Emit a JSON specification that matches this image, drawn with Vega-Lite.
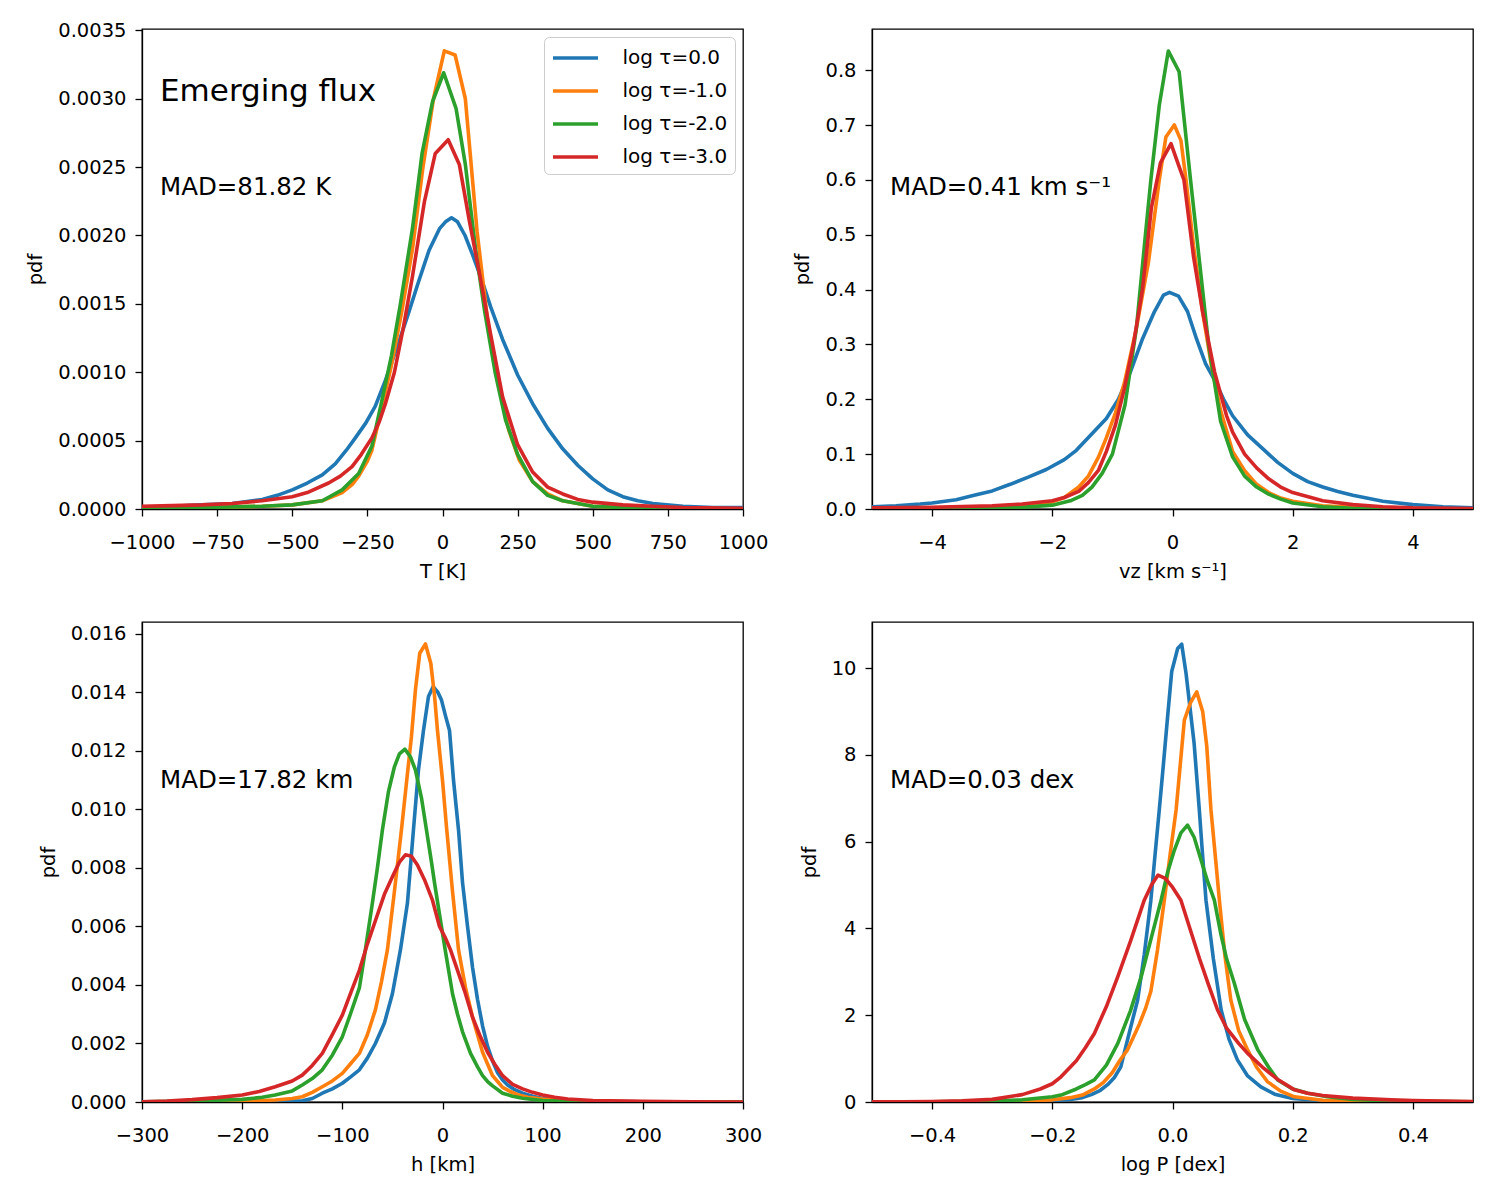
{
"$schema": "https://vega.github.io/schema/vega-lite/v6.json",
"background": "white",
"padding": {"left": 25, "top": 19, "right": 5, "bottom": 5},
"datasets": {
"T": [
{"s":"0.0","x":-1000,"y":0.00001},{"s":"0.0","x":-900,"y":0.00002},{"s":"0.0","x":-800,"y":0.00003},{"s":"0.0","x":-700,"y":0.00004},{"s":"0.0","x":-600,"y":0.00007},{"s":"0.0","x":-550,"y":0.0001},{"s":"0.0","x":-500,"y":0.00014},{"s":"0.0","x":-450,"y":0.00019},{"s":"0.0","x":-400,"y":0.00025},{"s":"0.0","x":-357,"y":0.00033},{"s":"0.0","x":-320,"y":0.00043},{"s":"0.0","x":-290,"y":0.00052},{"s":"0.0","x":-255,"y":0.00063},{"s":"0.0","x":-224,"y":0.00075},{"s":"0.0","x":-190,"y":0.00094},{"s":"0.0","x":-150,"y":0.00119},{"s":"0.0","x":-115,"y":0.00142},{"s":"0.0","x":-80,"y":0.00166},{"s":"0.0","x":-45,"y":0.00189},{"s":"0.0","x":-10,"y":0.00205},{"s":"0.0","x":10,"y":0.0021},{"s":"0.0","x":30,"y":0.00213},{"s":"0.0","x":50,"y":0.0021},{"s":"0.0","x":75,"y":0.002},{"s":"0.0","x":100,"y":0.00186},{"s":"0.0","x":130,"y":0.00168},{"s":"0.0","x":160,"y":0.00148},{"s":"0.0","x":200,"y":0.00124},{"s":"0.0","x":250,"y":0.00098},{"s":"0.0","x":300,"y":0.00077},{"s":"0.0","x":350,"y":0.00059},{"s":"0.0","x":400,"y":0.00044},{"s":"0.0","x":450,"y":0.00032},{"s":"0.0","x":500,"y":0.00022},{"s":"0.0","x":550,"y":0.00014},{"s":"0.0","x":600,"y":0.00009},{"s":"0.0","x":650,"y":0.00006},{"s":"0.0","x":700,"y":0.00004},{"s":"0.0","x":800,"y":0.00002},{"s":"0.0","x":900,"y":0.00001},{"s":"0.0","x":1000,"y":0.00001},
{"s":"-1.0","x":-1000,"y":0.000005},{"s":"-1.0","x":-800,"y":0.00001},{"s":"-1.0","x":-600,"y":0.00002},{"s":"-1.0","x":-500,"y":0.00003},{"s":"-1.0","x":-400,"y":0.00006},{"s":"-1.0","x":-334,"y":0.00012},{"s":"-1.0","x":-300,"y":0.00018},{"s":"-1.0","x":-279,"y":0.00024},{"s":"-1.0","x":-250,"y":0.00035},{"s":"-1.0","x":-235,"y":0.00043},{"s":"-1.0","x":-201,"y":0.00075},{"s":"-1.0","x":-170,"y":0.00105},{"s":"-1.0","x":-135,"y":0.00145},{"s":"-1.0","x":-100,"y":0.0019},{"s":"-1.0","x":-65,"y":0.0025},{"s":"-1.0","x":-30,"y":0.003},{"s":"-1.0","x":6,"y":0.00335},{"s":"-1.0","x":42,"y":0.00332},{"s":"-1.0","x":76,"y":0.003},{"s":"-1.0","x":115,"y":0.00203},{"s":"-1.0","x":150,"y":0.00138},{"s":"-1.0","x":185,"y":0.00092},{"s":"-1.0","x":220,"y":0.00058},{"s":"-1.0","x":255,"y":0.00036},{"s":"-1.0","x":300,"y":0.0002},{"s":"-1.0","x":350,"y":0.00011},{"s":"-1.0","x":400,"y":0.00006},{"s":"-1.0","x":450,"y":0.00004},{"s":"-1.0","x":500,"y":0.00002},{"s":"-1.0","x":600,"y":0.00001},{"s":"-1.0","x":800,"y":0.000005},{"s":"-1.0","x":1000,"y":0},
{"s":"-2.0","x":-1000,"y":0.000005},{"s":"-2.0","x":-800,"y":0.00001},{"s":"-2.0","x":-600,"y":0.00002},{"s":"-2.0","x":-500,"y":0.00003},{"s":"-2.0","x":-400,"y":0.00006},{"s":"-2.0","x":-334,"y":0.00014},{"s":"-2.0","x":-279,"y":0.00026},{"s":"-2.0","x":-235,"y":0.00046},{"s":"-2.0","x":-201,"y":0.0008},{"s":"-2.0","x":-170,"y":0.00112},{"s":"-2.0","x":-140,"y":0.0015},{"s":"-2.0","x":-100,"y":0.00205},{"s":"-2.0","x":-68,"y":0.0026},{"s":"-2.0","x":-33,"y":0.00298},{"s":"-2.0","x":4,"y":0.00319},{"s":"-2.0","x":45,"y":0.00293},{"s":"-2.0","x":76,"y":0.00252},{"s":"-2.0","x":110,"y":0.0019},{"s":"-2.0","x":140,"y":0.00145},{"s":"-2.0","x":175,"y":0.001},{"s":"-2.0","x":210,"y":0.00065},{"s":"-2.0","x":250,"y":0.0004},{"s":"-2.0","x":300,"y":0.0002},{"s":"-2.0","x":350,"y":0.0001},{"s":"-2.0","x":400,"y":0.00006},{"s":"-2.0","x":450,"y":0.00004},{"s":"-2.0","x":500,"y":0.00002},{"s":"-2.0","x":600,"y":0.00001},{"s":"-2.0","x":800,"y":0.000005},{"s":"-2.0","x":1000,"y":0},
{"s":"-3.0","x":-1000,"y":0.00002},{"s":"-3.0","x":-900,"y":0.000025},{"s":"-3.0","x":-800,"y":0.00003},{"s":"-3.0","x":-700,"y":0.00004},{"s":"-3.0","x":-600,"y":0.00006},{"s":"-3.0","x":-500,"y":0.00009},{"s":"-3.0","x":-450,"y":0.00012},{"s":"-3.0","x":-379,"y":0.00019},{"s":"-3.0","x":-340,"y":0.00024},{"s":"-3.0","x":-301,"y":0.00031},{"s":"-3.0","x":-270,"y":0.0004},{"s":"-3.0","x":-235,"y":0.00052},{"s":"-3.0","x":-210,"y":0.00064},{"s":"-3.0","x":-190,"y":0.00077},{"s":"-3.0","x":-160,"y":0.001},{"s":"-3.0","x":-130,"y":0.00133},{"s":"-3.0","x":-100,"y":0.0017},{"s":"-3.0","x":-60,"y":0.00225},{"s":"-3.0","x":-24,"y":0.0026},{"s":"-3.0","x":19,"y":0.0027},{"s":"-3.0","x":56,"y":0.00252},{"s":"-3.0","x":90,"y":0.0021},{"s":"-3.0","x":125,"y":0.0017},{"s":"-3.0","x":160,"y":0.00128},{"s":"-3.0","x":200,"y":0.00082},{"s":"-3.0","x":250,"y":0.00047},{"s":"-3.0","x":300,"y":0.00027},{"s":"-3.0","x":350,"y":0.00016},{"s":"-3.0","x":400,"y":0.00011},{"s":"-3.0","x":450,"y":0.00007},{"s":"-3.0","x":500,"y":0.00005},{"s":"-3.0","x":600,"y":0.00003},{"s":"-3.0","x":700,"y":0.00002},{"s":"-3.0","x":800,"y":0.00001},{"s":"-3.0","x":1000,"y":0.000005}
],
"V": [
{"s":"0.0","x":-5,"y":0.004},{"s":"0.0","x":-4.6,"y":0.006},{"s":"0.0","x":-4.2,"y":0.009},{"s":"0.0","x":-4,"y":0.011},{"s":"0.0","x":-3.6,"y":0.017},{"s":"0.0","x":-3.3,"y":0.025},{"s":"0.0","x":-3,"y":0.033},{"s":"0.0","x":-2.7,"y":0.045},{"s":"0.0","x":-2.4,"y":0.058},{"s":"0.0","x":-2.1,"y":0.072},{"s":"0.0","x":-1.8,"y":0.09},{"s":"0.0","x":-1.6,"y":0.107},{"s":"0.0","x":-1.34,"y":0.137},{"s":"0.0","x":-1.1,"y":0.165},{"s":"0.0","x":-0.9,"y":0.2},{"s":"0.0","x":-0.7,"y":0.25},{"s":"0.0","x":-0.5,"y":0.31},{"s":"0.0","x":-0.3,"y":0.36},{"s":"0.0","x":-0.15,"y":0.39},{"s":"0.0","x":-0.05,"y":0.395},{"s":"0.0","x":0.1,"y":0.388},{"s":"0.0","x":0.25,"y":0.36},{"s":"0.0","x":0.4,"y":0.31},{"s":"0.0","x":0.55,"y":0.265},{"s":"0.0","x":0.7,"y":0.235},{"s":"0.0","x":0.85,"y":0.2},{"s":"0.0","x":1,"y":0.17},{"s":"0.0","x":1.25,"y":0.135},{"s":"0.0","x":1.5,"y":0.11},{"s":"0.0","x":1.75,"y":0.085},{"s":"0.0","x":2,"y":0.065},{"s":"0.0","x":2.25,"y":0.05},{"s":"0.0","x":2.5,"y":0.04},{"s":"0.0","x":2.75,"y":0.032},{"s":"0.0","x":3,"y":0.025},{"s":"0.0","x":3.5,"y":0.014},{"s":"0.0","x":4,"y":0.008},{"s":"0.0","x":4.5,"y":0.004},{"s":"0.0","x":5,"y":0.002},
{"s":"-1.0","x":-5,"y":0.001},{"s":"-1.0","x":-4,"y":0.002},{"s":"-1.0","x":-3,"y":0.004},{"s":"-1.0","x":-2.5,"y":0.007},{"s":"-1.0","x":-2,"y":0.013},{"s":"-1.0","x":-1.8,"y":0.021},{"s":"-1.0","x":-1.56,"y":0.04},{"s":"-1.0","x":-1.4,"y":0.06},{"s":"-1.0","x":-1.23,"y":0.095},{"s":"-1.0","x":-1.1,"y":0.13},{"s":"-1.0","x":-0.95,"y":0.175},{"s":"-1.0","x":-0.8,"y":0.23},{"s":"-1.0","x":-0.6,"y":0.33},{"s":"-1.0","x":-0.4,"y":0.45},{"s":"-1.0","x":-0.22,"y":0.6},{"s":"-1.0","x":-0.11,"y":0.678},{"s":"-1.0","x":0.03,"y":0.7},{"s":"-1.0","x":0.14,"y":0.672},{"s":"-1.0","x":0.225,"y":0.6},{"s":"-1.0","x":0.35,"y":0.48},{"s":"-1.0","x":0.5,"y":0.36},{"s":"-1.0","x":0.65,"y":0.26},{"s":"-1.0","x":0.8,"y":0.18},{"s":"-1.0","x":1,"y":0.105},{"s":"-1.0","x":1.2,"y":0.07},{"s":"-1.0","x":1.4,"y":0.045},{"s":"-1.0","x":1.6,"y":0.03},{"s":"-1.0","x":1.8,"y":0.02},{"s":"-1.0","x":2,"y":0.014},{"s":"-1.0","x":2.5,"y":0.006},{"s":"-1.0","x":3,"y":0.003},{"s":"-1.0","x":4,"y":0.001},{"s":"-1.0","x":5,"y":0},
{"s":"-2.0","x":-5,"y":0},{"s":"-2.0","x":-4,"y":0.0005},{"s":"-2.0","x":-3,"y":0.001},{"s":"-2.0","x":-2.5,"y":0.003},{"s":"-2.0","x":-2,"y":0.007},{"s":"-2.0","x":-1.7,"y":0.015},{"s":"-2.0","x":-1.5,"y":0.025},{"s":"-2.0","x":-1.34,"y":0.04},{"s":"-2.0","x":-1.17,"y":0.065},{"s":"-2.0","x":-1,"y":0.1},{"s":"-2.0","x":-0.79,"y":0.19},{"s":"-2.0","x":-0.6,"y":0.33},{"s":"-2.0","x":-0.45,"y":0.5},{"s":"-2.0","x":-0.36,"y":0.6},{"s":"-2.0","x":-0.22,"y":0.736},{"s":"-2.0","x":-0.07,"y":0.835},{"s":"-2.0","x":0.11,"y":0.797},{"s":"-2.0","x":0.3,"y":0.6},{"s":"-2.0","x":0.45,"y":0.45},{"s":"-2.0","x":0.6,"y":0.3},{"s":"-2.0","x":0.8,"y":0.16},{"s":"-2.0","x":1,"y":0.095},{"s":"-2.0","x":1.2,"y":0.06},{"s":"-2.0","x":1.4,"y":0.04},{"s":"-2.0","x":1.6,"y":0.027},{"s":"-2.0","x":1.8,"y":0.018},{"s":"-2.0","x":2,"y":0.011},{"s":"-2.0","x":2.5,"y":0.004},{"s":"-2.0","x":3,"y":0.0015},{"s":"-2.0","x":4,"y":0.0005},{"s":"-2.0","x":5,"y":0},
{"s":"-3.0","x":-5,"y":0.002},{"s":"-3.0","x":-4,"y":0.003},{"s":"-3.0","x":-3,"y":0.006},{"s":"-3.0","x":-2.5,"y":0.009},{"s":"-3.0","x":-2,"y":0.015},{"s":"-3.0","x":-1.8,"y":0.021},{"s":"-3.0","x":-1.56,"y":0.032},{"s":"-3.0","x":-1.4,"y":0.048},{"s":"-3.0","x":-1.23,"y":0.071},{"s":"-3.0","x":-1.1,"y":0.105},{"s":"-3.0","x":-0.95,"y":0.153},{"s":"-3.0","x":-0.8,"y":0.22},{"s":"-3.0","x":-0.65,"y":0.3},{"s":"-3.0","x":-0.5,"y":0.4},{"s":"-3.0","x":-0.35,"y":0.55},{"s":"-3.0","x":-0.2,"y":0.631},{"s":"-3.0","x":-0.025,"y":0.666},{"s":"-3.0","x":0.11,"y":0.624},{"s":"-3.0","x":0.19,"y":0.6},{"s":"-3.0","x":0.35,"y":0.46},{"s":"-3.0","x":0.5,"y":0.36},{"s":"-3.0","x":0.7,"y":0.25},{"s":"-3.0","x":0.9,"y":0.17},{"s":"-3.0","x":1,"y":0.14},{"s":"-3.0","x":1.2,"y":0.1},{"s":"-3.0","x":1.4,"y":0.075},{"s":"-3.0","x":1.6,"y":0.055},{"s":"-3.0","x":1.8,"y":0.04},{"s":"-3.0","x":2,"y":0.03},{"s":"-3.0","x":2.5,"y":0.015},{"s":"-3.0","x":3,"y":0.008},{"s":"-3.0","x":3.5,"y":0.004},{"s":"-3.0","x":4,"y":0.002},{"s":"-3.0","x":5,"y":0.001}
],
"H": [
{"s":"0.0","x":-300,"y":0},{"s":"0.0","x":-250,"y":0.000003},{"s":"0.0","x":-200,"y":0.00001},{"s":"0.0","x":-160,"y":0.00002},{"s":"0.0","x":-140,"y":0.00004},{"s":"0.0","x":-130,"y":0.00012},{"s":"0.0","x":-120,"y":0.0003},{"s":"0.0","x":-110,"y":0.00045},{"s":"0.0","x":-100,"y":0.00064},{"s":"0.0","x":-92,"y":0.00085},{"s":"0.0","x":-83,"y":0.0011},{"s":"0.0","x":-75,"y":0.0015},{"s":"0.0","x":-67,"y":0.002},{"s":"0.0","x":-58,"y":0.0027},{"s":"0.0","x":-50,"y":0.0037},{"s":"0.0","x":-42,"y":0.0052},{"s":"0.0","x":-35,"y":0.0068},{"s":"0.0","x":-29,"y":0.0093},{"s":"0.0","x":-24,"y":0.01135},{"s":"0.0","x":-19,"y":0.0127},{"s":"0.0","x":-14,"y":0.01386},{"s":"0.0","x":-9.3,"y":0.0142},{"s":"0.0","x":-4.5,"y":0.014},{"s":"0.0","x":-1,"y":0.01374},{"s":"0.0","x":3,"y":0.0132},{"s":"0.0","x":7,"y":0.0127},{"s":"0.0","x":11,"y":0.011},{"s":"0.0","x":16,"y":0.0093},{"s":"0.0","x":20,"y":0.0075},{"s":"0.0","x":25,"y":0.006},{"s":"0.0","x":30,"y":0.0046},{"s":"0.0","x":35,"y":0.0035},{"s":"0.0","x":40,"y":0.0026},{"s":"0.0","x":45,"y":0.0019},{"s":"0.0","x":50,"y":0.0014},{"s":"0.0","x":55,"y":0.001},{"s":"0.0","x":60,"y":0.00075},{"s":"0.0","x":65,"y":0.00058},{"s":"0.0","x":72,"y":0.00042},{"s":"0.0","x":80,"y":0.0003},{"s":"0.0","x":90,"y":0.0002},{"s":"0.0","x":100,"y":0.00012},{"s":"0.0","x":120,"y":0.00006},{"s":"0.0","x":150,"y":0.00002},{"s":"0.0","x":200,"y":0.000005},{"s":"0.0","x":300,"y":0},
{"s":"-1.0","x":-300,"y":0},{"s":"-1.0","x":-250,"y":0.000005},{"s":"-1.0","x":-200,"y":0.00002},{"s":"-1.0","x":-167,"y":0.00007},{"s":"-1.0","x":-150,"y":0.00012},{"s":"-1.0","x":-140,"y":0.00018},{"s":"-1.0","x":-130,"y":0.00033},{"s":"-1.0","x":-120,"y":0.00052},{"s":"-1.0","x":-110,"y":0.00072},{"s":"-1.0","x":-100,"y":0.00098},{"s":"-1.0","x":-92,"y":0.0013},{"s":"-1.0","x":-83,"y":0.00166},{"s":"-1.0","x":-75,"y":0.0023},{"s":"-1.0","x":-67,"y":0.00315},{"s":"-1.0","x":-61,"y":0.0041},{"s":"-1.0","x":-55,"y":0.0052},{"s":"-1.0","x":-48,"y":0.0072},{"s":"-1.0","x":-41,"y":0.0093},{"s":"-1.0","x":-36,"y":0.0109},{"s":"-1.0","x":-31,"y":0.01249},{"s":"-1.0","x":-27,"y":0.0141},{"s":"-1.0","x":-22.7,"y":0.01534},{"s":"-1.0","x":-17,"y":0.01566},{"s":"-1.0","x":-11.7,"y":0.015},{"s":"-1.0","x":-8,"y":0.0139},{"s":"-1.0","x":-5,"y":0.0127},{"s":"-1.0","x":0,"y":0.011},{"s":"-1.0","x":4,"y":0.0094},{"s":"-1.0","x":10,"y":0.0072},{"s":"-1.0","x":16,"y":0.0052},{"s":"-1.0","x":23,"y":0.0039},{"s":"-1.0","x":30,"y":0.0029},{"s":"-1.0","x":35,"y":0.0023},{"s":"-1.0","x":40,"y":0.0017},{"s":"-1.0","x":45,"y":0.0013},{"s":"-1.0","x":50,"y":0.0009},{"s":"-1.0","x":55,"y":0.0007},{"s":"-1.0","x":60,"y":0.0005},{"s":"-1.0","x":68,"y":0.00035},{"s":"-1.0","x":75,"y":0.00025},{"s":"-1.0","x":85,"y":0.00016},{"s":"-1.0","x":100,"y":0.0001},{"s":"-1.0","x":125,"y":0.00004},{"s":"-1.0","x":150,"y":0.00002},{"s":"-1.0","x":200,"y":0.000005},{"s":"-1.0","x":300,"y":0},
{"s":"-2.0","x":-300,"y":0.00001},{"s":"-2.0","x":-250,"y":0.00003},{"s":"-2.0","x":-200,"y":0.00009},{"s":"-2.0","x":-180,"y":0.00016},{"s":"-2.0","x":-167,"y":0.00024},{"s":"-2.0","x":-150,"y":0.00038},{"s":"-2.0","x":-140,"y":0.00058},{"s":"-2.0","x":-130,"y":0.0008},{"s":"-2.0","x":-120,"y":0.0011},{"s":"-2.0","x":-110,"y":0.0016},{"s":"-2.0","x":-100,"y":0.00223},{"s":"-2.0","x":-92,"y":0.003},{"s":"-2.0","x":-83,"y":0.0039},{"s":"-2.0","x":-77,"y":0.0052},{"s":"-2.0","x":-70,"y":0.0068},{"s":"-2.0","x":-65,"y":0.008},{"s":"-2.0","x":-60,"y":0.0093},{"s":"-2.0","x":-54,"y":0.0106},{"s":"-2.0","x":-48,"y":0.01146},{"s":"-2.0","x":-43,"y":0.0119},{"s":"-2.0","x":-37.5,"y":0.01206},{"s":"-2.0","x":-32,"y":0.0118},{"s":"-2.0","x":-27,"y":0.01135},{"s":"-2.0","x":-21,"y":0.0104},{"s":"-2.0","x":-16,"y":0.0093},{"s":"-2.0","x":-11,"y":0.0082},{"s":"-2.0","x":-8,"y":0.0075},{"s":"-2.0","x":-2,"y":0.0062},{"s":"-2.0","x":2.7,"y":0.0052},{"s":"-2.0","x":10,"y":0.0037},{"s":"-2.0","x":15,"y":0.003},{"s":"-2.0","x":20,"y":0.0024},{"s":"-2.0","x":28,"y":0.00166},{"s":"-2.0","x":35,"y":0.0012},{"s":"-2.0","x":40,"y":0.0009},{"s":"-2.0","x":45,"y":0.0007},{"s":"-2.0","x":50,"y":0.00055},{"s":"-2.0","x":60,"y":0.0003},{"s":"-2.0","x":70,"y":0.0002},{"s":"-2.0","x":80,"y":0.00013},{"s":"-2.0","x":100,"y":0.00005},{"s":"-2.0","x":125,"y":0.00002},{"s":"-2.0","x":150,"y":0.00001},{"s":"-2.0","x":200,"y":0.000003},{"s":"-2.0","x":300,"y":0},
{"s":"-3.0","x":-300,"y":0.00001},{"s":"-3.0","x":-275,"y":0.00003},{"s":"-3.0","x":-250,"y":0.00008},{"s":"-3.0","x":-225,"y":0.00015},{"s":"-3.0","x":-200,"y":0.00024},{"s":"-3.0","x":-183,"y":0.00036},{"s":"-3.0","x":-167,"y":0.00052},{"s":"-3.0","x":-150,"y":0.00072},{"s":"-3.0","x":-140,"y":0.00092},{"s":"-3.0","x":-130,"y":0.00125},{"s":"-3.0","x":-120,"y":0.00166},{"s":"-3.0","x":-110,"y":0.0023},{"s":"-3.0","x":-100,"y":0.00297},{"s":"-3.0","x":-92,"y":0.0037},{"s":"-3.0","x":-83,"y":0.0045},{"s":"-3.0","x":-75,"y":0.0054},{"s":"-3.0","x":-66,"y":0.0063},{"s":"-3.0","x":-58,"y":0.0071},{"s":"-3.0","x":-50,"y":0.0077},{"s":"-3.0","x":-43,"y":0.0082},{"s":"-3.0","x":-37,"y":0.00845},{"s":"-3.0","x":-31,"y":0.0084},{"s":"-3.0","x":-25,"y":0.0081},{"s":"-3.0","x":-18,"y":0.0076},{"s":"-3.0","x":-10,"y":0.0069},{"s":"-3.0","x":-3,"y":0.006},{"s":"-3.0","x":3,"y":0.0056},{"s":"-3.0","x":8,"y":0.0052},{"s":"-3.0","x":15,"y":0.0045},{"s":"-3.0","x":22,"y":0.0038},{"s":"-3.0","x":30,"y":0.0029},{"s":"-3.0","x":37,"y":0.0023},{"s":"-3.0","x":45,"y":0.0017},{"s":"-3.0","x":52,"y":0.0013},{"s":"-3.0","x":60,"y":0.0009},{"s":"-3.0","x":70,"y":0.0006},{"s":"-3.0","x":80,"y":0.00045},{"s":"-3.0","x":90,"y":0.00033},{"s":"-3.0","x":100,"y":0.00024},{"s":"-3.0","x":112,"y":0.00016},{"s":"-3.0","x":125,"y":0.0001},{"s":"-3.0","x":150,"y":0.00005},{"s":"-3.0","x":200,"y":0.00002},{"s":"-3.0","x":250,"y":0.00001},{"s":"-3.0","x":300,"y":0}
],
"P": [
{"s":"0.0","x":-0.5,"y":0},{"s":"0.0","x":-0.4,"y":0.001},{"s":"0.0","x":-0.3,"y":0.005},{"s":"0.0","x":-0.25,"y":0.012},{"s":"0.0","x":-0.2,"y":0.03},{"s":"0.0","x":-0.17,"y":0.06},{"s":"0.0","x":-0.15,"y":0.1},{"s":"0.0","x":-0.135,"y":0.17},{"s":"0.0","x":-0.12,"y":0.27},{"s":"0.0","x":-0.108,"y":0.4},{"s":"0.0","x":-0.097,"y":0.56},{"s":"0.0","x":-0.086,"y":0.81},{"s":"0.0","x":-0.08,"y":1.15},{"s":"0.0","x":-0.07,"y":1.7},{"s":"0.0","x":-0.058,"y":2.35},{"s":"0.0","x":-0.047,"y":3.4},{"s":"0.0","x":-0.036,"y":4.65},{"s":"0.0","x":-0.029,"y":5.7},{"s":"0.0","x":-0.022,"y":6.73},{"s":"0.0","x":-0.015,"y":7.8},{"s":"0.0","x":-0.008,"y":8.9},{"s":"0.0","x":-0.0013,"y":9.92},{"s":"0.0","x":0.0086,"y":10.45},{"s":"0.0","x":0.0153,"y":10.55},{"s":"0.0","x":0.0225,"y":9.88},{"s":"0.0","x":0.029,"y":9.1},{"s":"0.0","x":0.036,"y":8.26},{"s":"0.0","x":0.0446,"y":6.73},{"s":"0.0","x":0.05,"y":5.7},{"s":"0.0","x":0.0557,"y":4.65},{"s":"0.0","x":0.068,"y":3.3},{"s":"0.0","x":0.081,"y":2.12},{"s":"0.0","x":0.094,"y":1.45},{"s":"0.0","x":0.108,"y":0.97},{"s":"0.0","x":0.125,"y":0.6},{"s":"0.0","x":0.147,"y":0.35},{"s":"0.0","x":0.17,"y":0.18},{"s":"0.0","x":0.2,"y":0.08},{"s":"0.0","x":0.25,"y":0.03},{"s":"0.0","x":0.3,"y":0.012},{"s":"0.0","x":0.4,"y":0.003},{"s":"0.0","x":0.5,"y":0},
{"s":"-1.0","x":-0.5,"y":0},{"s":"-1.0","x":-0.4,"y":0.002},{"s":"-1.0","x":-0.3,"y":0.008},{"s":"-1.0","x":-0.25,"y":0.02},{"s":"-1.0","x":-0.2,"y":0.05},{"s":"-1.0","x":-0.17,"y":0.1},{"s":"-1.0","x":-0.15,"y":0.16},{"s":"-1.0","x":-0.13,"y":0.3},{"s":"-1.0","x":-0.115,"y":0.45},{"s":"-1.0","x":-0.1,"y":0.68},{"s":"-1.0","x":-0.088,"y":0.95},{"s":"-1.0","x":-0.075,"y":1.2},{"s":"-1.0","x":-0.065,"y":1.5},{"s":"-1.0","x":-0.055,"y":1.8},{"s":"-1.0","x":-0.045,"y":2.15},{"s":"-1.0","x":-0.036,"y":2.55},{"s":"-1.0","x":-0.025,"y":3.5},{"s":"-1.0","x":-0.0136,"y":4.65},{"s":"-1.0","x":-0.004,"y":5.7},{"s":"-1.0","x":0.006,"y":6.73},{"s":"-1.0","x":0.0197,"y":8.8},{"s":"-1.0","x":0.03,"y":9.2},{"s":"-1.0","x":0.0403,"y":9.45},{"s":"-1.0","x":0.0502,"y":9.0},{"s":"-1.0","x":0.057,"y":8.2},{"s":"-1.0","x":0.064,"y":6.73},{"s":"-1.0","x":0.071,"y":5.7},{"s":"-1.0","x":0.078,"y":4.65},{"s":"-1.0","x":0.087,"y":3.4},{"s":"-1.0","x":0.097,"y":2.35},{"s":"-1.0","x":0.11,"y":1.65},{"s":"-1.0","x":0.125,"y":1.2},{"s":"-1.0","x":0.14,"y":0.8},{"s":"-1.0","x":0.158,"y":0.47},{"s":"-1.0","x":0.18,"y":0.25},{"s":"-1.0","x":0.203,"y":0.12},{"s":"-1.0","x":0.25,"y":0.04},{"s":"-1.0","x":0.3,"y":0.015},{"s":"-1.0","x":0.4,"y":0.004},{"s":"-1.0","x":0.5,"y":0},
{"s":"-2.0","x":-0.5,"y":0},{"s":"-2.0","x":-0.4,"y":0.005},{"s":"-2.0","x":-0.3,"y":0.02},{"s":"-2.0","x":-0.25,"y":0.05},{"s":"-2.0","x":-0.2,"y":0.12},{"s":"-2.0","x":-0.1855,"y":0.16},{"s":"-2.0","x":-0.16,"y":0.3},{"s":"-2.0","x":-0.145,"y":0.4},{"s":"-2.0","x":-0.13,"y":0.51},{"s":"-2.0","x":-0.11,"y":0.85},{"s":"-2.0","x":-0.091,"y":1.35},{"s":"-2.0","x":-0.07,"y":2.1},{"s":"-2.0","x":-0.052,"y":2.89},{"s":"-2.0","x":-0.035,"y":3.8},{"s":"-2.0","x":-0.019,"y":4.65},{"s":"-2.0","x":-0.008,"y":5.3},{"s":"-2.0","x":0.003,"y":5.8},{"s":"-2.0","x":0.014,"y":6.2},{"s":"-2.0","x":0.025,"y":6.38},{"s":"-2.0","x":0.036,"y":6.1},{"s":"-2.0","x":0.047,"y":5.6},{"s":"-2.0","x":0.058,"y":5.1},{"s":"-2.0","x":0.0696,"y":4.65},{"s":"-2.0","x":0.08,"y":3.9},{"s":"-2.0","x":0.09,"y":3.3},{"s":"-2.0","x":0.103,"y":2.73},{"s":"-2.0","x":0.12,"y":1.9},{"s":"-2.0","x":0.142,"y":1.2},{"s":"-2.0","x":0.16,"y":0.8},{"s":"-2.0","x":0.175,"y":0.51},{"s":"-2.0","x":0.2,"y":0.3},{"s":"-2.0","x":0.225,"y":0.2},{"s":"-2.0","x":0.258,"y":0.12},{"s":"-2.0","x":0.3,"y":0.06},{"s":"-2.0","x":0.35,"y":0.03},{"s":"-2.0","x":0.4,"y":0.015},{"s":"-2.0","x":0.5,"y":0.003},
{"s":"-3.0","x":-0.5,"y":0.002},{"s":"-3.0","x":-0.45,"y":0.005},{"s":"-3.0","x":-0.4,"y":0.01},{"s":"-3.0","x":-0.35,"y":0.025},{"s":"-3.0","x":-0.3,"y":0.06},{"s":"-3.0","x":-0.25,"y":0.17},{"s":"-3.0","x":-0.22,"y":0.3},{"s":"-3.0","x":-0.2,"y":0.42},{"s":"-3.0","x":-0.1855,"y":0.58},{"s":"-3.0","x":-0.16,"y":0.95},{"s":"-3.0","x":-0.145,"y":1.25},{"s":"-3.0","x":-0.13,"y":1.58},{"s":"-3.0","x":-0.11,"y":2.2},{"s":"-3.0","x":-0.091,"y":2.89},{"s":"-3.0","x":-0.07,"y":3.7},{"s":"-3.0","x":-0.047,"y":4.65},{"s":"-3.0","x":-0.035,"y":5.0},{"s":"-3.0","x":-0.024,"y":5.23},{"s":"-3.0","x":-0.012,"y":5.15},{"s":"-3.0","x":0,"y":4.95},{"s":"-3.0","x":0.014,"y":4.65},{"s":"-3.0","x":0.03,"y":3.95},{"s":"-3.0","x":0.045,"y":3.3},{"s":"-3.0","x":0.06,"y":2.7},{"s":"-3.0","x":0.075,"y":2.12},{"s":"-3.0","x":0.09,"y":1.7},{"s":"-3.0","x":0.11,"y":1.35},{"s":"-3.0","x":0.125,"y":1.12},{"s":"-3.0","x":0.15,"y":0.8},{"s":"-3.0","x":0.175,"y":0.52},{"s":"-3.0","x":0.203,"y":0.28},{"s":"-3.0","x":0.225,"y":0.2},{"s":"-3.0","x":0.25,"y":0.15},{"s":"-3.0","x":0.3,"y":0.09},{"s":"-3.0","x":0.364,"y":0.05},{"s":"-3.0","x":0.4,"y":0.035},{"s":"-3.0","x":0.45,"y":0.02},{"s":"-3.0","x":0.5,"y":0.01}
]
},
"columns": 2,
"spacing": {"row": 113, "column": 129},
"bounds": "flush",
"resolve": {"scale": {"x": "independent", "y": "independent", "color": "independent"}, "axis": {"x": "independent", "y": "independent"}, "legend": {"color": "independent"}},
"concat": [
{
"width": 601, "height": 480,
"layer": [
{"data": {"name": "T"}, "mark": {"type": "line", "strokeWidth": 3.6, "clip": true, "strokeJoin": "round"},
 "encoding": {
  "x": {"field": "x", "type": "quantitative", "scale": {"domain": [-1000, 1000], "nice": false, "zero": false}, "axis": {"title": "T [K]", "values": [-1000,-750,-500,-250,0,250,500,750,1000], "format": "d"}},
  "y": {"field": "y", "type": "quantitative", "scale": {"domain": [0, 0.00351], "nice": false, "zero": false}, "axis": {"title": "pdf", "values": [0,0.0005,0.001,0.0015,0.002,0.0025,0.003,0.0035], "format": ".4f"}},
  "color": {"field": "s", "type": "nominal", "scale": {"domain": ["0.0","-1.0","-2.0","-3.0"], "range": ["#1f77b4","#ff7f0e","#2ca02c","#d62728"]},
   "legend": {"title": null, "orient": "top-right", "offset": 8, "labelExpr": "'log τ=' + datum.label", "symbolType": "M-1.875,0H1.875", "symbolSize": 576, "symbolStrokeWidth": 3.6, "symbolOffset": 10.5, "labelOffset": 33, "rowPadding": 9, "padding": 7, "labelFontSize": 20, "labelFont": "DejaVu Sans", "labelColor": "black", "strokeColor": "#cccccc", "fillColor": "white", "cornerRadius": 5}}
 }},
{"data": {"values": [{"x": -940, "y": 0.00305, "t": "Emerging flux"}]}, "mark": {"type": "text", "align": "left", "baseline": "middle", "fontSize": 31, "font": "DejaVu Sans", "color": "black"},
 "encoding": {"x": {"field": "x", "type": "quantitative"}, "y": {"field": "y", "type": "quantitative"}, "text": {"field": "t"}}},
{"data": {"values": [{"x": -940, "y": 0.002345, "t": "MAD=81.82 K"}]}, "mark": {"type": "text", "align": "left", "baseline": "middle", "fontSize": 24.5, "font": "DejaVu Sans", "color": "black"},
 "encoding": {"x": {"field": "x", "type": "quantitative"}, "y": {"field": "y", "type": "quantitative"}, "text": {"field": "t"}}}
]
},
{
"width": 601, "height": 480,
"layer": [
{"data": {"name": "V"}, "mark": {"type": "line", "strokeWidth": 3.6, "clip": true, "strokeJoin": "round"},
 "encoding": {
  "x": {"field": "x", "type": "quantitative", "scale": {"domain": [-5, 5], "nice": false, "zero": false}, "axis": {"title": "vz [km s⁻¹]", "values": [-4,-2,0,2,4], "format": "d"}},
  "y": {"field": "y", "type": "quantitative", "scale": {"domain": [0, 0.875], "nice": false, "zero": false}, "axis": {"title": "pdf", "values": [0,0.1,0.2,0.3,0.4,0.5,0.6,0.7,0.8], "format": ".1f"}},
  "color": {"field": "s", "type": "nominal", "scale": {"domain": ["0.0","-1.0","-2.0","-3.0"], "range": ["#1f77b4","#ff7f0e","#2ca02c","#d62728"]}, "legend": null}
 }},
{"data": {"values": [{"x": -4.7, "y": 0.5845, "t": "MAD=0.41 km s⁻¹"}]}, "mark": {"type": "text", "align": "left", "baseline": "middle", "fontSize": 24.5, "font": "DejaVu Sans", "color": "black"},
 "encoding": {"x": {"field": "x", "type": "quantitative"}, "y": {"field": "y", "type": "quantitative"}, "text": {"field": "t"}}}
]
},
{
"width": 601, "height": 480,
"layer": [
{"data": {"name": "H"}, "mark": {"type": "line", "strokeWidth": 3.6, "clip": true, "strokeJoin": "round"},
 "encoding": {
  "x": {"field": "x", "type": "quantitative", "scale": {"domain": [-300, 300], "nice": false, "zero": false}, "axis": {"title": "h [km]", "values": [-300,-200,-100,0,100,200,300], "format": "d"}},
  "y": {"field": "y", "type": "quantitative", "scale": {"domain": [0, 0.01641], "nice": false, "zero": false}, "axis": {"title": "pdf", "values": [0,0.002,0.004,0.006,0.008,0.01,0.012,0.014,0.016], "format": ".3f"}},
  "color": {"field": "s", "type": "nominal", "scale": {"domain": ["0.0","-1.0","-2.0","-3.0"], "range": ["#1f77b4","#ff7f0e","#2ca02c","#d62728"]}, "legend": null}
 }},
{"data": {"values": [{"x": -282, "y": 0.010962, "t": "MAD=17.82 km"}]}, "mark": {"type": "text", "align": "left", "baseline": "middle", "fontSize": 24.5, "font": "DejaVu Sans", "color": "black"},
 "encoding": {"x": {"field": "x", "type": "quantitative"}, "y": {"field": "y", "type": "quantitative"}, "text": {"field": "t"}}}
]
},
{
"width": 601, "height": 480,
"layer": [
{"data": {"name": "P"}, "mark": {"type": "line", "strokeWidth": 3.6, "clip": true, "strokeJoin": "round"},
 "encoding": {
  "x": {"field": "x", "type": "quantitative", "scale": {"domain": [-0.5, 0.5], "nice": false, "zero": false}, "axis": {"title": "log P [dex]", "values": [-0.4,-0.2,0,0.2,0.4], "format": ".1f"}},
  "y": {"field": "y", "type": "quantitative", "scale": {"domain": [0, 11.06], "nice": false, "zero": false}, "axis": {"title": "pdf", "values": [0,2,4,6,8,10], "format": "d"}},
  "color": {"field": "s", "type": "nominal", "scale": {"domain": ["0.0","-1.0","-2.0","-3.0"], "range": ["#1f77b4","#ff7f0e","#2ca02c","#d62728"]}, "legend": null}
 }},
{"data": {"values": [{"x": -0.47, "y": 7.388, "t": "MAD=0.03 dex"}]}, "mark": {"type": "text", "align": "left", "baseline": "middle", "fontSize": 24.5, "font": "DejaVu Sans", "color": "black"},
 "encoding": {"x": {"field": "x", "type": "quantitative"}, "y": {"field": "y", "type": "quantitative"}, "text": {"field": "t"}}}
]
}
],
"config": {
 "font": "DejaVu Sans",
 "view": {"stroke": "black", "strokeWidth": 1.3},
 "axis": {"grid": false, "domainColor": "black", "domainWidth": 1.3, "tickColor": "black", "tickWidth": 1.3, "tickSize": 7, "labelColor": "black", "labelFontSize": 19.5, "labelFont": "DejaVu Sans", "titleFont": "DejaVu Sans", "titleFontSize": 19.5, "titleFontWeight": "normal", "titleColor": "black", "labelFlush": false, "labelOverlap": false},
 "axisX": {"labelPadding": 17.5, "titlePadding": 10},
 "axisY": {"labelPadding": 9, "titlePadding": 12}
}
}
